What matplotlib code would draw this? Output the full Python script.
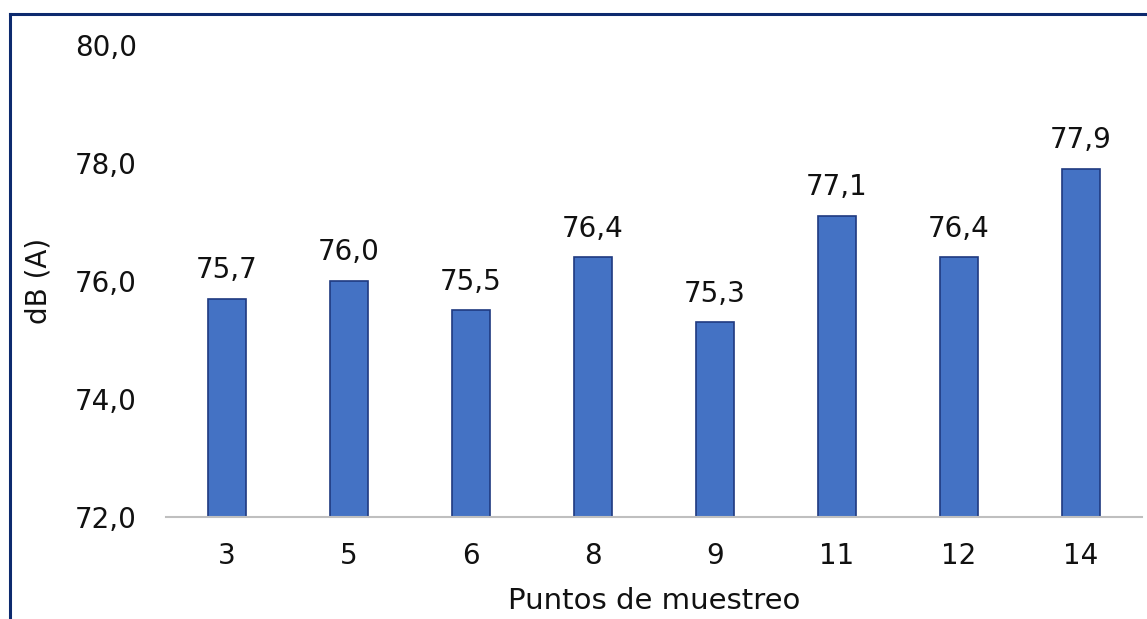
import matplotlib.pyplot as plt
from matplotlib.lines import Line2D
import numpy as np

puntos = ['3', '5', '6', '8', '9', '11', '12', '14']
valores = [75.7, 76.0, 75.5, 76.4, 75.3, 77.1, 76.4, 77.9]
yticks = [72, 74, 76, 78, 80]

plt.rcParams['font.family'] = ['DejaVu Sans']

fig = plt.figure(figsize=(11.47, 6.19), dpi=100)
ax = fig.add_axes([0.1447, 0.1648, 0.851, 0.7625])

x = np.arange(len(puntos))
ax.bar(x, valores, width=0.31, bottom=0, color='#4472C4', edgecolor='#1F3A80', linewidth=1.2, zorder=2)

for xi, v in zip(x, valores):
    ax.text(xi, v + 0.25, f'{v:.1f}'.replace('.', ','), ha='center', va='bottom', fontsize=20, color='#111111')

ax.set_ylim(72, 80)
ax.set_xlim(-0.5, len(puntos) - 0.5)
ax.set_yticks(yticks)
ax.set_yticklabels([f'{t:.1f}'.replace('.', ',') for t in yticks], fontsize=20, color='#111111')
ax.set_xticks(x)
ax.set_xticklabels(puntos, fontsize=20, color='#111111')
ax.tick_params(axis='both', length=0)
ax.tick_params(axis='y', pad=21)
ax.tick_params(axis='x', pad=18)

for s in ['top', 'right', 'left']:
    ax.spines[s].set_visible(False)
ax.spines['bottom'].set_color('#BFBFBF')
ax.spines['bottom'].set_linewidth(1.5)

ax.set_ylabel('dB (A)', fontsize=20, color='#111111', labelpad=16)
ax.set_xlabel('Puntos de muestreo', fontsize=21, color='#111111', labelpad=12)

# marco del cuadro (solo arriba e izquierda visibles)
fig.add_artist(Line2D([10 / 1147, 10 / 1147], [0, 1 - 13.5 / 619], transform=fig.transFigure, color='#0D2A6E', linewidth=2.2))
fig.add_artist(Line2D([10 / 1147, 1], [1 - 13.5 / 619, 1 - 13.5 / 619], transform=fig.transFigure, color='#0D2A6E', linewidth=2.2))

fig.savefig('out.png', dpi=100)
